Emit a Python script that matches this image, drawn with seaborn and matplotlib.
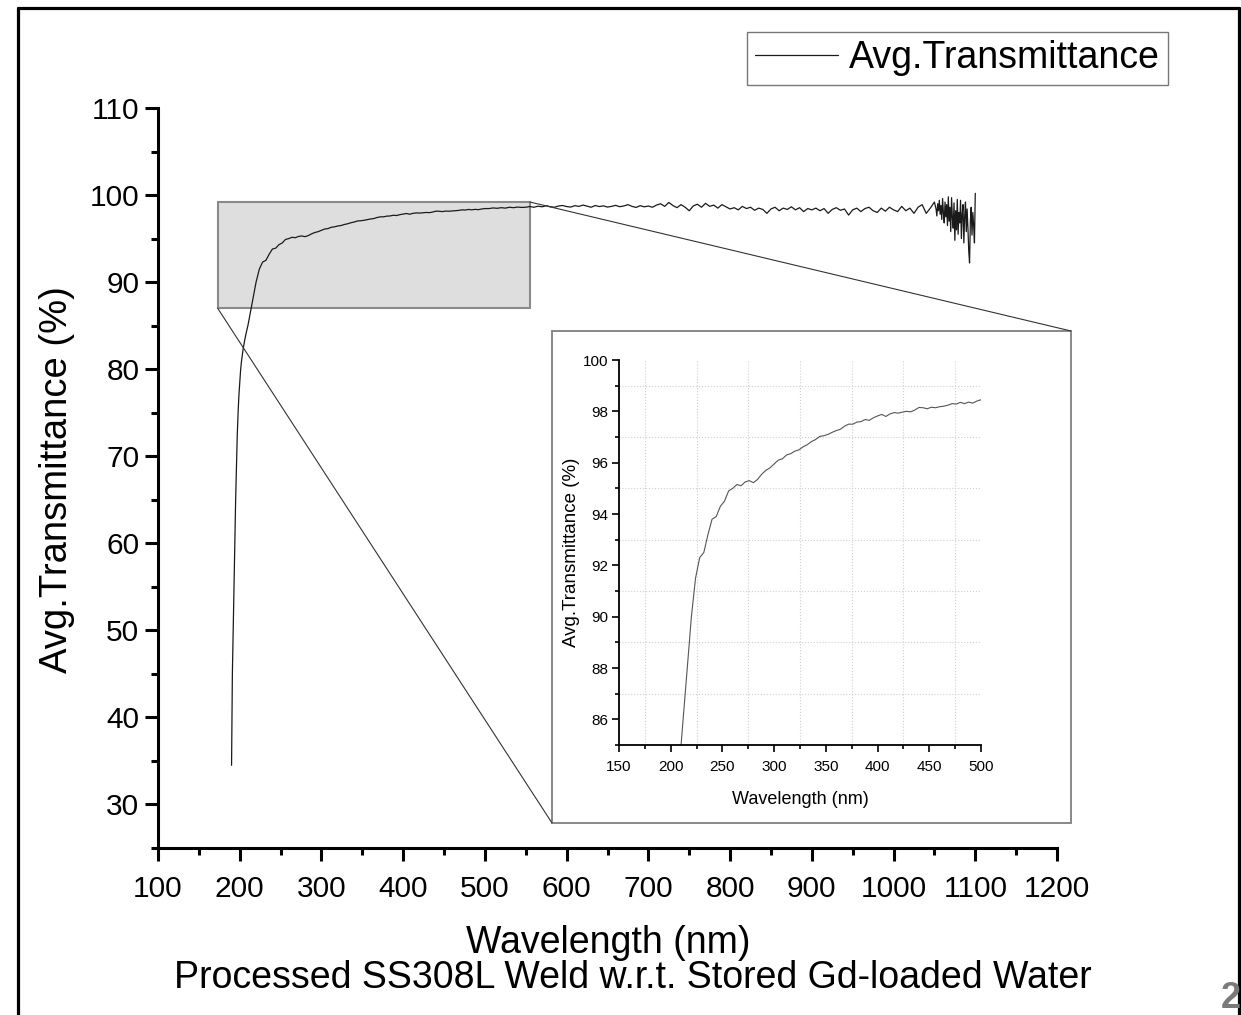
import numpy as np
import pandas as pd
import matplotlib
matplotlib.use("Agg")
import matplotlib.pyplot as plt
from matplotlib.patches import Rectangle, ConnectionPatch
from matplotlib.lines import Line2D
from matplotlib.ticker import MultipleLocator
import seaborn as sns

# ---- spectrum data: wavelength (nm) and average transmittance (%) ----
# absorption edge
wl_edge = [190, 190.5, 191, 192, 193, 194, 195, 196, 197, 198,
           199, 200, 201, 202, 204, 206, 208, 210]
t_edge = [34.5, 40.0, 45.0, 50.0, 55.0, 60.0, 65.0, 69.0, 72.5, 75.0,
          77.0, 78.5, 79.8, 80.8, 82.2, 83.3, 84.2, 85.0]

# UV knee (212-500 nm, 4 nm step)
wl_uv = np.arange(212, 501, 4)
t_uv = [86.0, 88.0, 90.0, 91.5, 92.3, 92.5, 93.2, 93.8, 93.9, 94.3,
        94.5, 94.9, 95.0, 95.15, 95.1, 95.25, 95.3, 95.22, 95.35, 95.55,
        95.7, 95.8, 95.95, 96.1, 96.15, 96.3, 96.35, 96.45, 96.5, 96.62,
        96.7, 96.82, 96.9, 97.02, 97.05, 97.1, 97.18, 97.25, 97.3, 97.42,
        97.5, 97.5, 97.58, 97.6, 97.68, 97.65, 97.75, 97.82, 97.88, 97.8,
        97.9, 97.95, 97.93, 97.97, 98.0, 97.98, 98.05, 98.15, 98.14, 98.1,
        98.16, 98.14, 98.18, 98.2, 98.24, 98.3, 98.28, 98.35, 98.3, 98.36,
        98.32, 98.4, 98.45]

# visible range (505-1050 nm, 5 nm step)
wl_vis = np.arange(505, 1051, 5)
t_vis = [98.45, 98.52, 98.48, 98.55, 98.5, 98.6, 98.55, 98.62, 98.58, 98.6,
         98.68, 98.6, 98.72, 98.65, 98.78, 98.66, 98.6, 98.74, 98.8, 98.68,
         98.62, 98.78, 98.7, 98.85, 98.72, 98.6, 98.8, 98.68, 98.76, 98.62,
         98.7, 98.82, 98.66, 98.75, 98.9, 98.7, 98.58, 98.78, 98.65, 98.74,
         98.6, 98.85, 99.0, 98.7, 99.15, 98.8, 98.55, 98.9, 98.6, 98.2,
         98.75, 98.95, 98.6, 99.05, 98.7, 98.85, 98.5, 98.9, 98.65, 98.4,
         98.55, 98.3, 98.7, 98.45, 98.6, 98.25, 98.5, 98.35, 97.9, 98.4,
         98.6, 98.2, 98.5, 98.35, 98.65, 98.3, 98.55, 98.1, 98.45, 98.3,
         98.5, 98.2, 98.45, 97.9, 98.35, 98.55, 98.25, 98.4, 97.7, 98.3,
         98.5, 98.1, 98.45, 98.6, 98.2, 98.0, 98.5, 98.15, 98.6, 98.3,
         98.1, 98.7, 98.2, 98.5, 97.9, 98.6, 98.9, 97.9, 98.5, 99.2]

# noisy detector end (1052-1100 nm, 1 nm step)
wl_nir = np.arange(1052, 1101, 1)
t_nir = [98.4, 97.6, 99.0, 98.2, 99.4, 97.8, 98.8, 97.2, 99.6, 98.0,
         96.8, 99.2, 97.5, 98.9, 96.5, 99.8, 97.0, 98.6, 95.8, 99.7,
         97.4, 96.2, 99.1, 94.8, 98.2, 96.0, 99.5, 95.5, 98.0, 96.8,
         99.4, 95.0, 97.8, 98.9, 94.5, 97.5, 99.2, 95.8, 98.4, 96.2,
         93.6, 92.2, 97.0, 98.6, 95.4, 98.0, 96.5, 94.5, 100.2]

wavelength = np.concatenate([wl_edge, wl_uv, wl_vis, wl_nir]).astype(float)
transmittance = np.concatenate([t_edge, t_uv, t_vis, t_nir]).astype(float)
df = pd.DataFrame({"Wavelength (nm)": wavelength,
                   "Avg.Transmittance (%)": transmittance})

# zoom window marked on the main plot
zoom_x = (173, 555)
zoom_y = (87.0, 99.2)

sns.set_theme(style="ticks")
plt.rcParams["font.family"] = ["Liberation Sans", "DejaVu Sans"]
for key in ("text.color", "axes.labelcolor", "xtick.color", "ytick.color",
            "axes.edgecolor"):
    plt.rcParams[key] = "black"

W, H = 1241, 1015
fig = plt.figure(figsize=(W / 100, H / 100), dpi=100)
fig.patch.set_facecolor("white")


def fx(px):
    return px / W


def fy(py):
    return 1 - py / H


# ---- main axes ----
ax = fig.add_axes([fx(158), fy(848), fx(1057) - fx(158), fy(108) - fy(848)])
sns.lineplot(data=df, x="Wavelength (nm)", y="Avg.Transmittance (%)", ax=ax,
             color="#1a1a1a", lw=0.9, estimator=None, sort=False, zorder=3)
ax.set_xlim(100, 1200)
ax.set_ylim(25, 110)
ax.set_xlabel("")
ax.set_ylabel("")
for s in ("top", "right"):
    ax.spines[s].set_visible(False)
for s in ("left", "bottom"):
    ax.spines[s].set_linewidth(2.2)
ax.xaxis.set_major_locator(MultipleLocator(100))
ax.xaxis.set_minor_locator(MultipleLocator(50))
ax.set_yticks(np.arange(30, 111, 10))
ax.yaxis.set_minor_locator(MultipleLocator(5))
ax.tick_params(which="both", bottom=True, left=True, top=False, right=False)
ax.tick_params(which="major", direction="out", length=9.5, width=2.2,
               labelsize=21.5, color="black", labelcolor="black")
ax.tick_params(which="minor", direction="out", length=5, width=2.2,
               color="black")
ax.tick_params(axis="x", which="major", pad=10)
ax.tick_params(axis="y", which="major", pad=4)
ax.grid(False)

ax.add_patch(Rectangle((zoom_x[0], zoom_y[0]), zoom_x[1] - zoom_x[0],
                       zoom_y[1] - zoom_y[0], facecolor="#dedede",
                       edgecolor="#8a8a8a", lw=1.5, zorder=2))

fig.text(fx(57), fy(480), "Avg.Transmittance (%)", rotation=90,
         ha="center", va="center", fontsize=27.5)
fig.text(fx(608), fy(943), "Wavelength (nm)", ha="center", va="center",
         fontsize=27)
fig.text(fx(633), fy(978), "Processed SS308L Weld w.r.t. Stored Gd-loaded Water",
         ha="center", va="center", fontsize=27)

# legend
fig.legend(handles=[Line2D([], [], color="#1a1a1a", lw=0.9)],
           labels=["Avg.Transmittance"], loc="upper right",
           bbox_to_anchor=(fx(1168), fy(32)), bbox_transform=fig.transFigure,
           frameon=True, fancybox=False, edgecolor="#777777", framealpha=1,
           fontsize=27, handlelength=2.2, handletextpad=0.3, borderpad=0.22,
           borderaxespad=0)

# ---- inset frame and connectors ----
frame = Rectangle((fx(552), fy(823)), fx(1071) - fx(552), fy(331) - fy(823),
                  transform=fig.transFigure, fill=False, edgecolor="#7f7f7f",
                  lw=1.3)
fig.add_artist(frame)
for a_pt, b_pt in [((zoom_x[0], zoom_y[0]), (fx(552), fy(823))),
                   ((zoom_x[1], zoom_y[1]), (fx(1071), fy(331)))]:
    con = ConnectionPatch(xyA=a_pt, coordsA=ax.transData, xyB=b_pt,
                          coordsB=fig.transFigure, color="#333333", lw=0.8)
    fig.add_artist(con)

# ---- inset axes ----
axin = fig.add_axes([fx(619), fy(745), fx(981) - fx(619), fy(360) - fy(745)])
sns.lineplot(data=df, x="Wavelength (nm)", y="Avg.Transmittance (%)", ax=axin,
             color="#555555", lw=0.8, estimator=None, sort=False)
axin.set_xlim(150, 500)
axin.set_ylim(85, 100)
for s in ("top", "right"):
    axin.spines[s].set_visible(False)
for s in ("left", "bottom"):
    axin.spines[s].set_linewidth(1.3)
axin.xaxis.set_major_locator(MultipleLocator(50))
axin.xaxis.set_minor_locator(MultipleLocator(25))
axin.set_yticks(np.arange(86, 101, 2))
axin.set_yticks(np.arange(85, 100, 2), minor=True)
axin.tick_params(which="both", bottom=True, left=True, top=False, right=False)
axin.tick_params(which="major", direction="out", length=5, width=1.2,
                 labelsize=11, color="black", labelcolor="black", pad=3)
axin.tick_params(axis="x", which="major", pad=6)
axin.tick_params(which="minor", direction="out", length=3, width=1.2,
                 color="black")
axin.grid(False)
axin.grid(which="minor", ls=":", color="#cfcfcf", lw=0.8)
axin.set_axisbelow(True)
axin.set_xlabel("Wavelength (nm)", fontsize=13, labelpad=12)
axin.set_ylabel("Avg.Transmittance (%)", fontsize=13.5, labelpad=2)

# ---- page border and page number ----
lw_page = 2.3
fig.add_artist(Line2D([fx(18), fx(18)], [fy(8), 0], color="black", lw=lw_page,
                      transform=fig.transFigure))
fig.add_artist(Line2D([fx(18), fx(1239)], [fy(8), fy(8)], color="black",
                      lw=lw_page, transform=fig.transFigure))
fig.add_artist(Line2D([fx(1239), fx(1239)], [fy(8), 0], color="black",
                      lw=lw_page, transform=fig.transFigure))
fig.text(fx(1221), fy(998), "2", fontsize=26, color="#7a7a7a",
         fontweight="bold", ha="left", va="center")

fig.savefig("out.png", dpi=100, facecolor="white")
